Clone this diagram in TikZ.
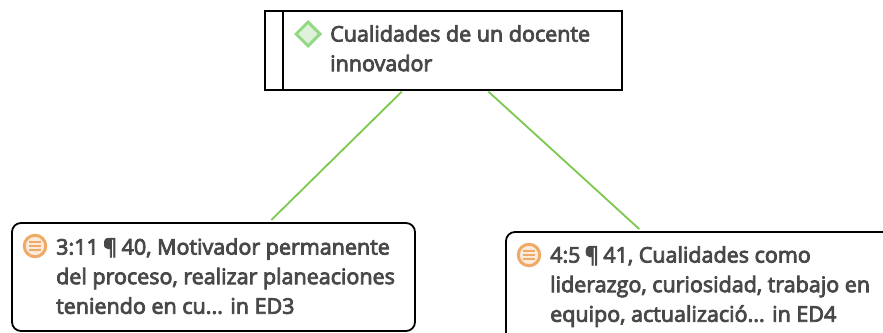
\documentclass[tikz,border=0pt]{standalone}
\usepackage{fontspec}
\setmainfont{Open Sans}
\usetikzlibrary{shapes,arrows}
\definecolor{linkgreen}{HTML}{7CC850}
\definecolor{textgray}{HTML}{484848}
\definecolor{diamondline}{HTML}{93D985}
\definecolor{diamondfill}{HTML}{DFF1DA}
\definecolor{memoline}{HTML}{EFAA68}
\definecolor{memofill}{HTML}{FCEBDA}
\newcommand{\parmark}{\kern-1.2pt ¶\kern-1.2pt}
\tikzstyle{code} = [rectangle, draw=black, line width=2pt, inner sep=0pt]
\tikzstyle{quotation} = [code, rounded corners=9pt, line width=1.8pt]
\tikzstyle{caption} = [inner sep=0pt, anchor=north west, align=left, text=textgray, font=\fontsize{21.5}{29.6}\selectfont, execute at begin node={\special{pdf:code 2 Tr 0.8 w}}, execute at end node={\special{pdf:code 0 Tr}}]
\tikzstyle{line} = [draw=linkgreen, line width=1.8pt, shorten <=1pt, shorten >=3pt]
\tikzstyle{codeicon} = [diamond, draw=diamondline, fill=diamondfill, line width=3pt, inner sep=0pt, minimum size=25pt]
\tikzstyle{memoicon} = [circle, draw=memoline, fill=memofill, line width=3pt, inner sep=0pt, minimum size=21.5pt]
\tikzstyle{memorow} = [draw=memoline, line width=1.8pt]

\begin{document}
\begin{tikzpicture}[x=1pt, y=-1pt]
		\useasboundingbox (0,0) rectangle (883,332);
		\clip (0,0) rectangle (883,332);
		\fill [white] (0,0) rectangle (883,332);

		\node [code, minimum width=357pt, minimum height=79pt] (qualities) at (443.5,50.5) {};
		\node [quotation, minimum width=403pt, minimum height=108pt] (memo3) at (213.5,277) {};
		\node [quotation, minimum width=402pt, minimum height=118pt] (memo4) at (707,291) {};

		\draw [black, line width=2pt] (qualities.north west) ++(18.5,0) coordinate (bar) -- (bar |- qualities.south);

		\node [codeicon] (diamond) at (308,34) {};
		\node [caption] (qualitieslabel) at (330,25) {Cualidades de un docente\\innovador};

		\node [memoicon] (icon3) at (35,246) {};
		\node [caption] (memo3label) at (56,238) {3:11 \parmark{} 40, Motivador permanente\\del proceso, realizar planeaciones\\teniendo en cu... in ED3};

		\node [memoicon] (icon4) at (529,255) {};
		\node [caption] (memo4label) at (550,246) {4:5 \parmark{} 41, Cualidades como\\liderazgo, curiosidad, trabajo en\\equipo, actualizació... in ED4};

		\foreach \icon in {icon3, icon4} {
			\foreach \row in {-4,0,4} {
				\draw [memorow] ([xshift=-6pt, yshift=\row pt]\icon.center) -- ([xshift=6pt, yshift=\row pt]\icon.center);
			}
		}

		\path [line] (qualities) -- (memo3);
		\path [line] (qualities) -- (memo4);
	\end{tikzpicture}
\end{document}
